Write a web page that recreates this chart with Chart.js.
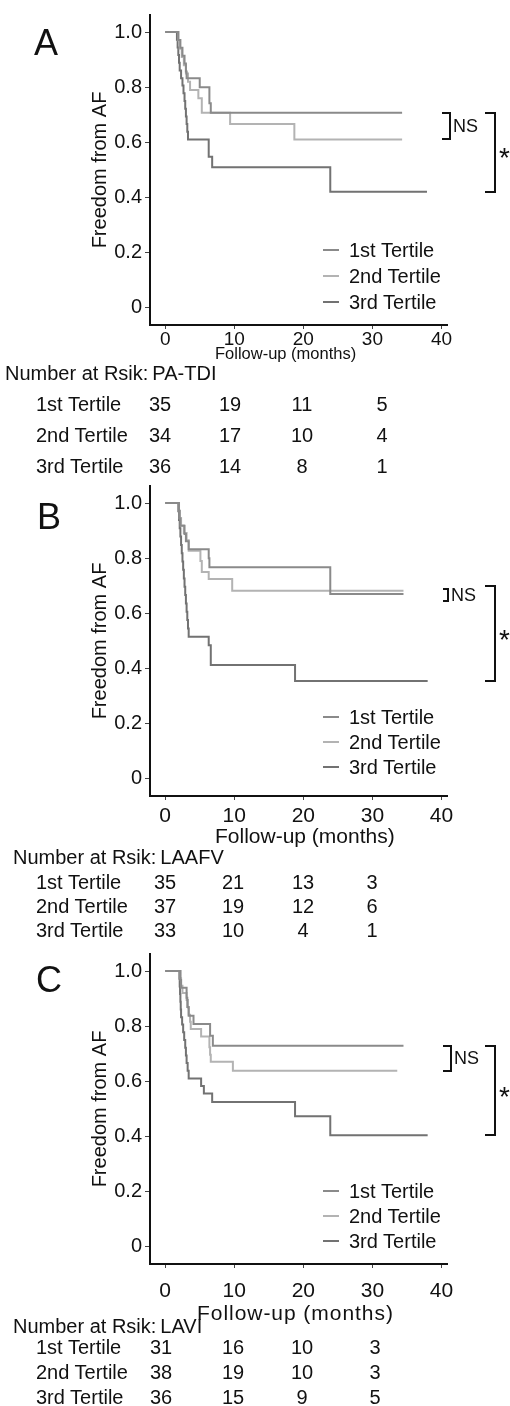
<!DOCTYPE html>
<html>
<head>
<meta charset="utf-8">
<script src="https://cdn.jsdelivr.net/npm/chart.js@4.4.1/dist/chart.umd.min.js"></script>
<style>
html,body{margin:0;padding:0;background:#fff;}
body{width:510px;height:1406px;position:relative;overflow:hidden;font-family:"Liberation Sans",Arial,Helvetica,sans-serif;color:#111;}
.panel{position:absolute;left:0;width:510px;height:470px;}
.panel canvas{position:absolute;left:0;top:0;}
.t{position:absolute;white-space:nowrap;line-height:1;}
.c{transform:translateX(-50%);}
.lg{position:absolute;height:2px;}
</style>
</head>
<body>
<script>
// ---------- shared axis data ----------
const TERTILES = ['1st Tertile', '2nd Tertile', '3rd Tertile'];
const X_TICKS = [0, 10, 20, 30, 40];
const X_TICK_LABELS = ['0', '10', '20', '30', '40'];
const Y_TICKS = [0, 0.2, 0.4, 0.6, 0.8, 1.0];
const Y_TICK_LABELS = ['0', '0.2', '0.4', '0.6', '0.8', '1.0'];
const X_TITLE = 'Follow-up (months)';
const Y_TITLE = 'Freedom from AF';
const RISK_HEADER = 'Number at Rsik:';

// ---------- Panel A : PA-TDI ----------
const A_T1 = [0, 1.9, 2.2, 2.5, 2.8, 3.0, 3.1, 5.0, 6.4, 6.6, 34.3];
const A_S1 = [1, 0.971, 0.943, 0.914, 0.886, 0.857, 0.833, 0.800, 0.742, 0.708, 0.708];
const A_T2 = [0, 1.9, 2.1, 2.4, 2.7, 3.0, 3.3, 3.6, 4.8, 5.3, 9.4, 18.7, 34.3];
const A_S2 = [1, 0.970, 0.940, 0.910, 0.880, 0.850, 0.820, 0.790, 0.760, 0.708, 0.667, 0.611, 0.611];
const A_T3 = [0, 1.7, 1.8, 1.9, 2.0, 2.1, 2.3, 2.5, 2.65, 2.8, 2.9, 3.0, 3.1, 3.2, 3.3, 6.3, 6.8, 23.9, 37.9];
const A_S3 = [1, 0.972, 0.944, 0.917, 0.889, 0.861, 0.833, 0.806, 0.778, 0.750, 0.722, 0.694, 0.667, 0.639, 0.611, 0.548, 0.510, 0.421, 0.421];
const A_RISK_1 = [35, 19, 11, 5];
const A_RISK_2 = [34, 17, 10, 4];
const A_RISK_3 = [36, 14, 8, 1];
const A_NS = [0.708, 0.611];
const A_SIG = [0.708, 0.421];

// ---------- Panel B : LAAFV ----------
const B_T1 = [0, 2.0, 2.1, 2.2, 2.8, 3.0, 3.4, 6.3, 6.4, 23.9, 34.5];
const B_S1 = [1, 0.971, 0.943, 0.918, 0.888, 0.862, 0.833, 0.800, 0.767, 0.670, 0.670];
const B_T2 = [0, 2.0, 2.1, 2.3, 2.7, 3.1, 3.4, 5.1, 5.3, 6.3, 9.7, 34.5];
const B_S2 = [1, 0.973, 0.946, 0.919, 0.892, 0.865, 0.827, 0.790, 0.750, 0.725, 0.682, 0.682];
const B_T3 = [0, 1.9, 2.0, 2.1, 2.2, 2.3, 2.4, 2.5, 2.6, 2.7, 2.8, 2.9, 3.0, 3.1, 3.2, 3.3, 3.4, 6.3, 6.6, 18.8, 38.0];
const B_S3 = [1, 0.970, 0.939, 0.909, 0.879, 0.848, 0.818, 0.788, 0.758, 0.727, 0.697, 0.667, 0.636, 0.606, 0.576, 0.545, 0.515, 0.485, 0.413, 0.355, 0.355];
const B_RISK_1 = [35, 21, 13, 3];
const B_RISK_2 = [37, 19, 12, 6];
const B_RISK_3 = [33, 10, 4, 1];
const B_NS = [0.688, 0.645];
const B_SIG = [0.700, 0.355];

// ---------- Panel C : LAVI ----------
const C_T1 = [0, 2.2, 2.3, 3.1, 3.2, 3.4, 4.1, 6.5, 6.9, 34.5];
const C_S1 = [1, 0.968, 0.940, 0.903, 0.870, 0.838, 0.808, 0.766, 0.729, 0.729];
const C_T2 = [0, 2.2, 2.3, 2.5, 3.1, 3.3, 3.4, 3.6, 3.7, 5.2, 6.4, 6.5, 6.6, 9.8, 33.6];
const C_S2 = [1, 0.974, 0.947, 0.921, 0.895, 0.868, 0.842, 0.816, 0.790, 0.763, 0.724, 0.697, 0.671, 0.639, 0.639];
const C_T3 = [0, 2.05, 2.1, 2.15, 2.2, 2.25, 2.3, 2.45, 2.6, 2.75, 2.9, 3.0, 3.1, 3.25, 3.4, 5.2, 5.6, 6.8, 18.8, 23.9, 38.0];
const C_S3 = [1, 0.972, 0.944, 0.917, 0.889, 0.861, 0.833, 0.806, 0.778, 0.750, 0.722, 0.694, 0.667, 0.639, 0.611, 0.583, 0.556, 0.525, 0.474, 0.405, 0.405];
const C_RISK_1 = [31, 16, 10, 3];
const C_RISK_2 = [38, 19, 10, 3];
const C_RISK_3 = [36, 15, 9, 5];
const C_NS = [0.729, 0.639];
const C_SIG = [0.729, 0.405];

// ---------- styles / layout (not data) ----------
const COLORS = ['#8a8a8a', '#b3b3b3', '#727272'];
const FONT = '"Liberation Sans", Arial, Helvetica, sans-serif';
const LAYOUT = [
  {top: 0,   letter: [46, 43],   xTickSize: 19, xTickPad: -1, xTitle: {left: 215, cy: 353, size: 16.5, ls: 0},
   legendY: [250, 276, 302], tableY: [373, 404, 435, 466], cols: [160, 230, 302, 382], headerLeft: 5, nsX: [442, 450]},
  {top: 471, letter: [49, 46],   xTickSize: 21, xTickPad: 4,  xTitle: {left: 215, cy: 364, size: 21, ls: 0},
   legendY: [246, 271, 296], tableY: [386, 411, 435, 459], cols: [165, 233, 303, 372], headerLeft: 13, nsX: [443, 448]},
  {top: 939, letter: [49, 41],   xTickSize: 21, xTickPad: 11, xTitle: {left: 197, cy: 373, size: 21, ls: 0.95},
   legendY: [252, 277, 302], tableY: [387, 408, 433, 458], cols: [161, 233, 302, 375], headerLeft: 13, nsX: [443, 451]}
];

const PANELS = [
  {letter: 'A', marker: 'PA-TDI', times: [A_T1, A_T2, A_T3], surv: [A_S1, A_S2, A_S3], risk: [A_RISK_1, A_RISK_2, A_RISK_3], ns: A_NS, sig: A_SIG},
  {letter: 'B', marker: 'LAAFV',  times: [B_T1, B_T2, B_T3], surv: [B_S1, B_S2, B_S3], risk: [B_RISK_1, B_RISK_2, B_RISK_3], ns: B_NS, sig: B_SIG},
  {letter: 'C', marker: 'LAVI',   times: [C_T1, C_T2, C_T3], surv: [C_S1, C_S2, C_S3], risk: [C_RISK_1, C_RISK_2, C_RISK_3], ns: C_NS, sig: C_SIG}
];

Chart.defaults.font.family = FONT;
Chart.defaults.color = '#111';

const bracketPlugin = {
  id: 'brackets',
  afterDraw(chart, args, opts) {
    const y = chart.scales.y, ctx = chart.ctx;
    ctx.save();
    ctx.strokeStyle = '#111';
    ctx.lineWidth = 2;
    const draw = (x0, x1, v0, v1) => {
      const ya = Math.round(y.getPixelForValue(v0)), yb = Math.round(y.getPixelForValue(v1));
      ctx.beginPath();
      ctx.moveTo(x0, ya); ctx.lineTo(x1, ya); ctx.lineTo(x1, yb); ctx.lineTo(x0, yb);
      ctx.stroke();
    };
    draw(opts.nsX[0], opts.nsX[1], opts.ns[0], opts.ns[1]);
    draw(485, 495, opts.sig[0], opts.sig[1]);
    ctx.restore();
  }
};

function addText(parent, text, x, cy, size, center, extra) {
  const el = document.createElement('div');
  el.className = 't' + (center ? ' c' : '');
  el.textContent = text;
  el.style.left = x + 'px';
  el.style.top = (cy - 0.49 * size) + 'px';
  el.style.fontSize = size + 'px';
  if (extra) Object.assign(el.style, extra);
  parent.appendChild(el);
  return el;
}

PANELS.forEach((p, pi) => {
  const L = LAYOUT[pi];
  const div = document.createElement('div');
  div.className = 'panel';
  div.style.top = L.top + 'px';
  document.body.appendChild(div);
  const canvas = document.createElement('canvas');
  canvas.width = 510; canvas.height = 470;
  canvas.style.width = '510px'; canvas.style.height = '470px';
  div.appendChild(canvas);

  const chart = new Chart(canvas, {
    type: 'line',
    data: {
      datasets: TERTILES.map((name, i) => ({
        label: name,
        data: p.times[i].map((t, k) => ({x: t, y: p.surv[i][k]})),
        borderColor: COLORS[i],
        borderWidth: 2,
        pointRadius: 0,
        stepped: 'before',
        fill: false,
        tension: 0
      }))
    },
    options: {
      responsive: false,
      animation: false,
      devicePixelRatio: 1,
      layout: {padding: {top: 15, right: 63, bottom: 0, left: 0}},
      plugins: {
        legend: {display: false},
        tooltip: {enabled: false},
        brackets: {ns: p.ns, sig: p.sig, nsX: L.nsX}
      },
      scales: {
        x: {
          type: 'linear', min: -2.2, max: 40.8,
          afterBuildTicks: s => { s.ticks = X_TICKS.map(v => ({value: v})); },
          afterFit: s => { s.height = 145; },
          grid: {drawOnChartArea: false, drawTicks: true, tickLength: 4, color: '#444', tickColor: '#444', lineWidth: 1},
          border: {display: true, color: '#111', width: 2},
          ticks: {font: {size: L.xTickSize}, color: '#111', padding: L.xTickPad, maxRotation: 0, autoSkip: false,
                  callback: (v, i) => X_TICK_LABELS[i]},
          title: {display: false}
        },
        y: {
          min: -0.062, max: 1.062,
          afterBuildTicks: s => { s.ticks = Y_TICKS.map(v => ({value: v})); },
          afterFit: s => { s.width = 150; },
          grid: {drawOnChartArea: false, drawTicks: true, tickLength: 5, color: '#444', tickColor: '#444', lineWidth: 1},
          border: {display: true, color: '#111', width: 2},
          ticks: {font: {size: 20}, color: '#111', padding: 3, callback: (v, i) => Y_TICK_LABELS[i]},
          title: {display: true, text: Y_TITLE, font: {size: 20}, color: '#111', padding: {top: 88, bottom: 0}}
        }
      }
    },
    plugins: [bracketPlugin]
  });

  // panel letter
  addText(div, p.letter, L.letter[0], L.letter[1], 36, true);
  // x-axis title
  addText(div, X_TITLE, L.xTitle.left, L.xTitle.cy, L.xTitle.size, false, {letterSpacing: L.xTitle.ls + 'px'});
  // legend
  TERTILES.forEach((name, i) => {
    const ln = document.createElement('div');
    ln.className = 'lg';
    ln.style.left = '323px'; ln.style.width = '16px';
    ln.style.top = (L.legendY[i] - 1) + 'px';
    ln.style.background = COLORS[i];
    div.appendChild(ln);
    addText(div, name, 349, L.legendY[i], 20, false);
  });
  // NS and * labels next to the brackets
  const ys = chart.scales.y;
  const nsMid = (ys.getPixelForValue(p.ns[0]) + ys.getPixelForValue(p.ns[1])) / 2;
  const sigMid = (ys.getPixelForValue(p.sig[0]) + ys.getPixelForValue(p.sig[1])) / 2;
  addText(div, 'NS', L.nsX[1] + 3, nsMid, 18, false);
  addText(div, '*', 499, sigMid + 6, 28, false);
  // number at risk table
  addText(div, RISK_HEADER + '\u2009' + p.marker, L.headerLeft, L.tableY[0], 20, false);
  TERTILES.forEach((name, i) => {
    addText(div, name, 36, L.tableY[i + 1], 20, false);
    p.risk[i].forEach((n, k) => addText(div, String(n), L.cols[k], L.tableY[i + 1], 20, true));
  });
});
</script>
</body>
</html>
